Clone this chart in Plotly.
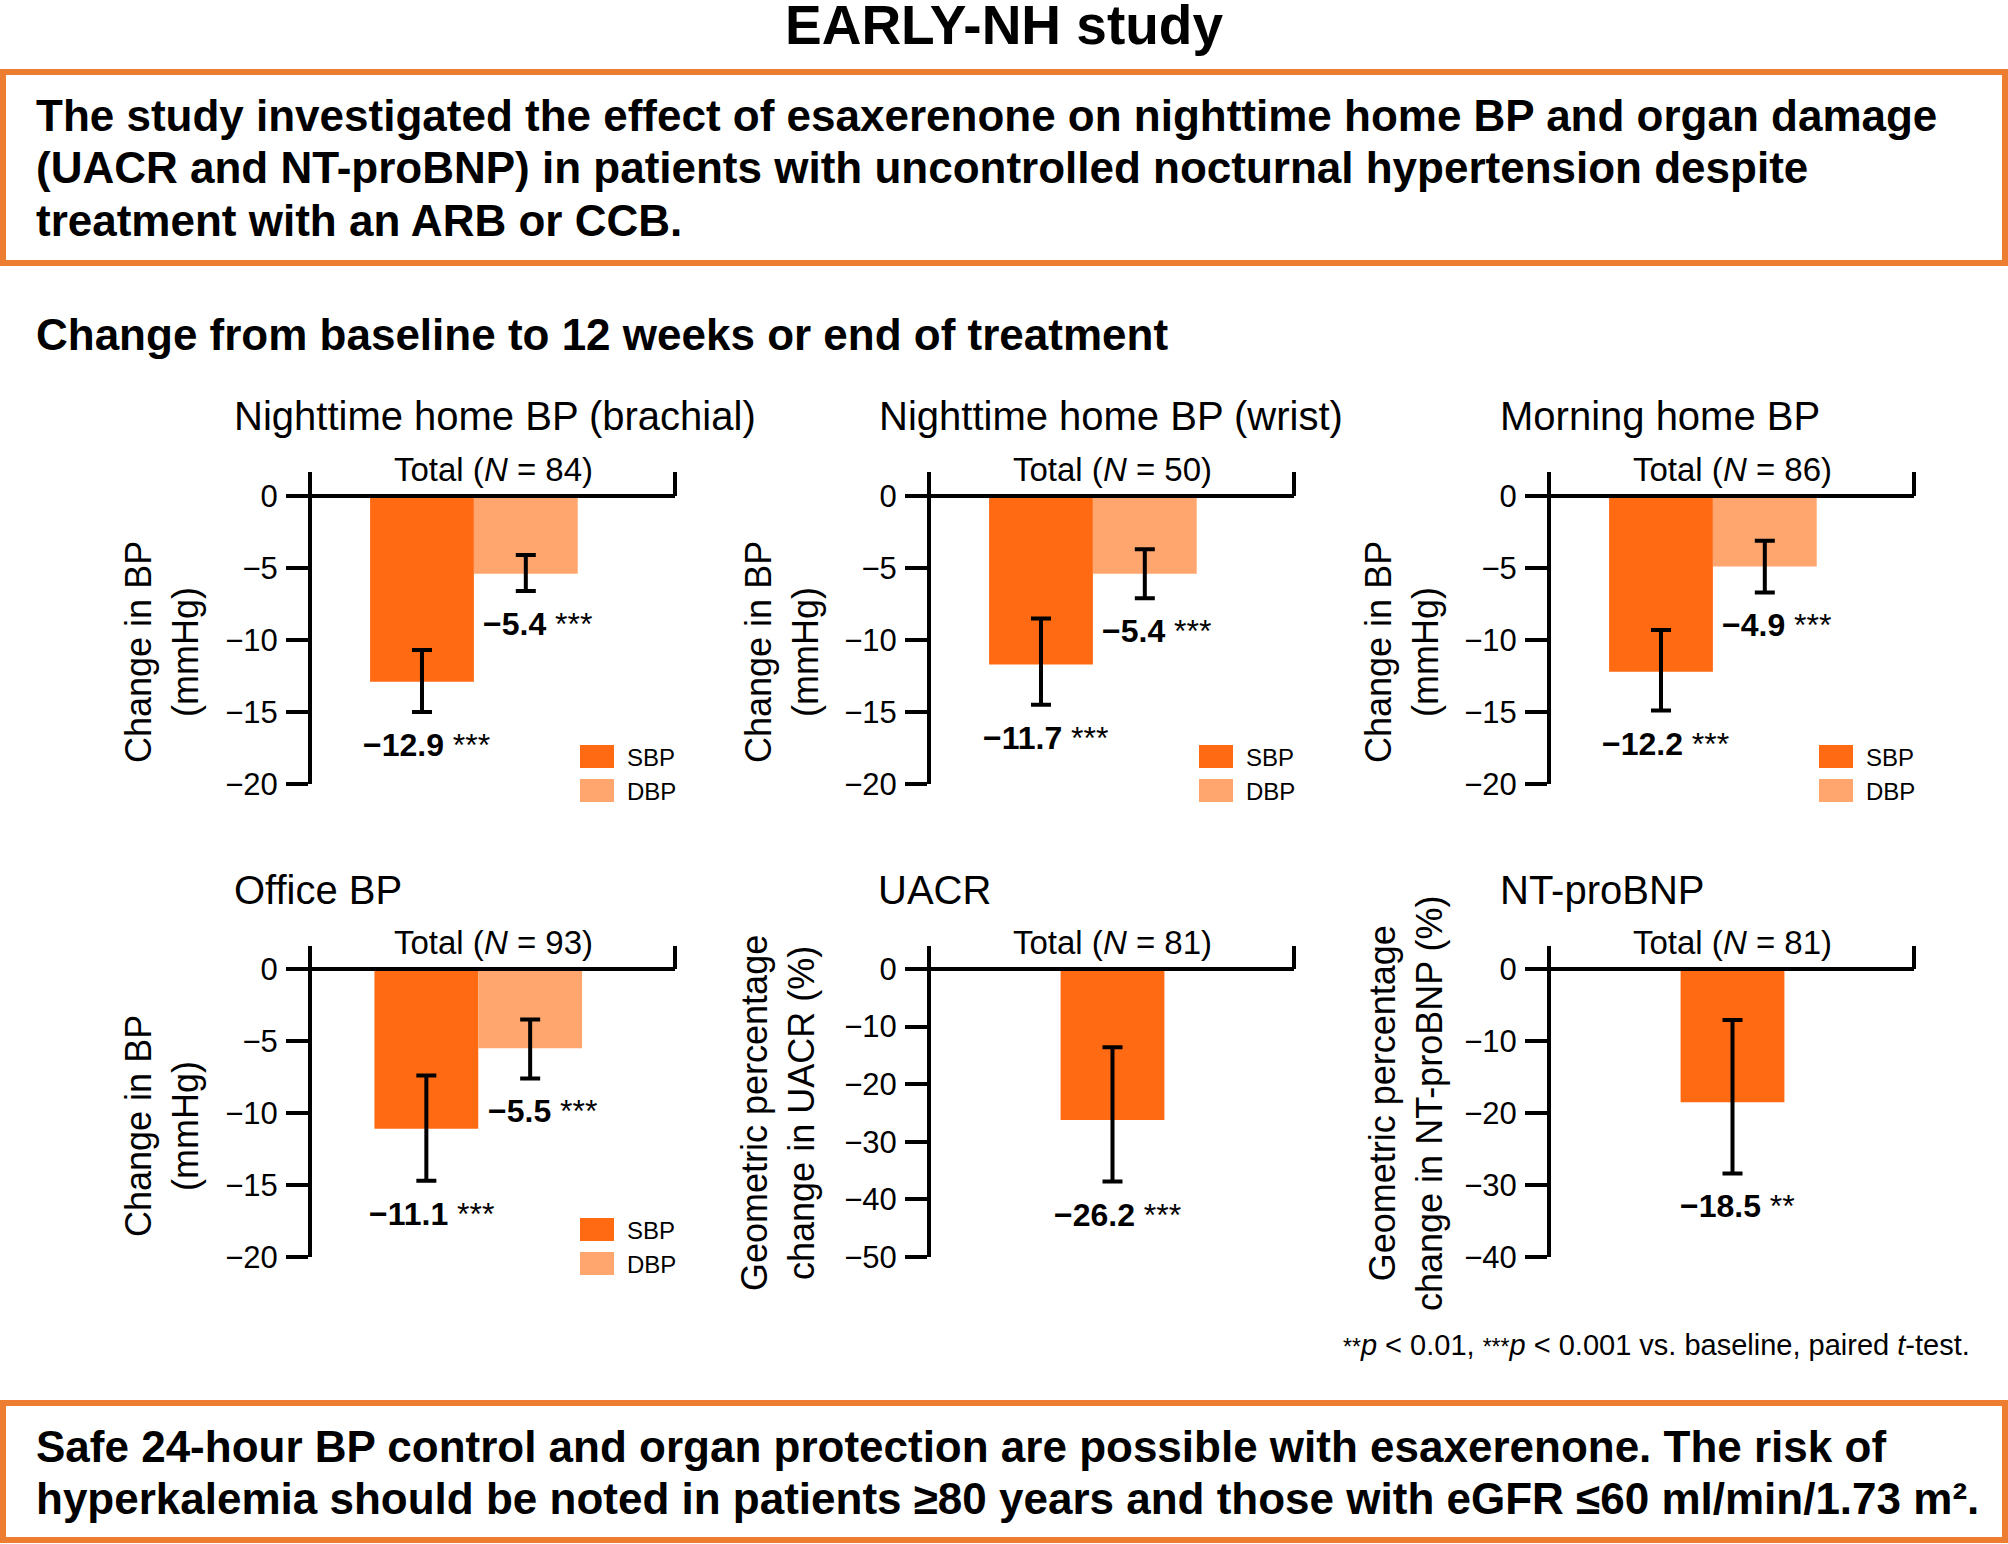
import plotly.graph_objects as go

W, H = 2008, 1544
FONT = "Liberation Sans, Arial, Helvetica, sans-serif"
SBP_COLOR = "#FF6A13"
DBP_COLOR = "#FFA66E"
BORDER = "#ED7D31"

# ---------------- data ----------------
page_title = "EARLY-NH study"
intro_lines = [
    "The study investigated the effect of esaxerenone on nighttime home BP and organ damage",
    "(UACR and NT-proBNP) in patients with uncontrolled nocturnal hypertension despite",
    "treatment with an ARB or CCB.",
]
section_title = "Change from baseline to 12 weeks or end of treatment"
conclusion_lines = [
    "Safe 24-hour BP control and organ protection are possible with esaxerenone. The risk of",
    "hyperkalemia should be noted in patients ≥80 years and those with eGFR ≤60 ml/min/1.73 m²."
]

panel_titles = ["Nighttime home BP (brachial)", "Nighttime home BP (wrist)", "Morning home BP",
                "Office BP", "UACR", "NT-proBNP"]
panel_n = [84, 50, 86, 93, 81, 81]
category = ["Total"]
series_names = ["SBP", "DBP"]

# BP panels (brachial, wrist, morning, office)
sbp_change = [-12.9, -11.7, -12.2, -11.1]
sbp_ci_upper = [-10.7, -8.5, -9.3, -7.4]
sbp_ci_lower = [-15.0, -14.5, -14.9, -14.7]
sbp_sig = ["***", "***", "***", "***"]

dbp_change = [-5.4, -5.4, -4.9, -5.5]
dbp_ci_upper = [-4.1, -3.7, -3.1, -3.5]
dbp_ci_lower = [-6.6, -7.1, -6.7, -7.6]
dbp_sig = ["***", "***", "***", "***"]

# organ damage panels (UACR, NT-proBNP)
organ_change = [-26.2, -18.5]
organ_ci_upper = [-13.6, -7.1]
organ_ci_lower = [-36.9, -28.4]
organ_sig = ["***", "**"]

bp_ticks = [0, -5, -10, -15, -20]
uacr_ticks = [0, -10, -20, -30, -40, -50]
ntprobnp_ticks = [0, -10, -20, -30, -40]
panel_ticks = [bp_ticks, bp_ticks, bp_ticks, bp_ticks, uacr_ticks, ntprobnp_ticks]

bp_ytitle = "Change in BP<br>(mmHg)"
organ_ytitles = ["Geometric percentage<br>change in UACR (%)",
                 "Geometric percentage<br>change in NT-proBNP (%)"]

footnote = ('<span style="font-size:23px">**</span><i>p</i> &lt; 0.01, '
            '<span style="font-size:23px">***</span><i>p</i> &lt; 0.001 vs. baseline, paired <i>t</i>-test.')

# ---------------- layout geometry (pixels) ----------------
# (axis left x, plot right x, axis top y, zero y, min-tick y)
geo = [
    (312, 675, 472, 496, 784),
    (931, 1294, 472, 496, 784),
    (1551, 1914, 472, 496, 784),
    (312, 675, 946, 969, 1257),
    (931, 1294, 946, 969, 1257),
    (1551, 1914, 946, 969, 1257),
]
group_center = [0.446, 0.446, 0.446, 0.458, 0.5, 0.5]
title_x = [232, 877, 1498, 232, 876, 1498]
ytitle_x = [162, 782, 1402, 162, 778, 1406]
ytitle_y = [652, 652, 652, 1126, 1113, 1103]

BARGAP = 0.15
BAR_FRAC = 0.286  # bar width as fraction of axis length


def px(x):
    return x / W


def py(y):
    return 1 - y / H


def minus(v):
    return ("−" if v < 0 else "") + f"{abs(v):.1f}"


fig = go.Figure()
annotations = []
shapes = []

for i in range(6):
    ax = "" if i == 0 else str(i + 1)
    xref, yref = "x" + ax, "y" + ax
    xl, xr, yt, y0, yb = geo[i]
    ticks = panel_ticks[i]
    ymin = min(ticks)
    ytop = -ymin * (y0 - yt) / (yb - y0)

    two = i < 4
    ngroups = 2 if two else 1
    span = (1 - BARGAP) / (ngroups * BAR_FRAC)
    r0 = -group_center[i] * span
    bar_w = (1 - BARGAP) / ngroups

    if two:
        vals = [(sbp_change[i], sbp_ci_upper[i], sbp_ci_lower[i], sbp_sig[i], SBP_COLOR, series_names[0], -bar_w / 2, 5),
                (dbp_change[i], dbp_ci_upper[i], dbp_ci_lower[i], dbp_sig[i], DBP_COLOR, series_names[1], bar_w / 2, 12)]
    else:
        j = i - 4
        vals = [(organ_change[j], organ_ci_upper[j], organ_ci_lower[j], organ_sig[j], SBP_COLOR, "Change", 0, 5)]

    for v, up, lo, sig, col, name, off, xs in vals:
        fig.add_trace(go.Bar(
            x=category, y=[v], name=name, xaxis=xref, yaxis=yref,
            marker=dict(color=col, line=dict(width=0)),
            showlegend=False,
            error_y=dict(type="data", symmetric=False, array=[up - v], arrayminus=[v - lo],
                         color="black", thickness=4, width=10),
        ))
        annotations.append(dict(
            xref=xref, yref=yref, x=off, y=lo, yshift=-33, xshift=xs,
            text=f"<b>{minus(v)}</b> {sig}", showarrow=False,
            xanchor="center", yanchor="middle",
            font=dict(family=FONT, size=32, color="black")))

    dom_x = [px(xl), px(xr)]
    dom_y = [py(yb), py(yt)]
    fig.layout["xaxis" + ax] = dict(
        domain=dom_x, anchor=yref, type="category", range=[r0, r0 + span], automargin=False,
        showline=False, showticklabels=False, ticks="", showgrid=False, zeroline=False, fixedrange=True)
    fig.layout["yaxis" + ax] = dict(
        domain=dom_y, anchor=xref, range=[ymin, ytop], automargin=False,
        tickvals=ticks, ticktext=[("−" if t < 0 else "") + str(abs(t)) for t in ticks],
        ticks="outside", ticklen=22, tickwidth=4, tickcolor="black",
        showline=True, linewidth=4, linecolor="black",
        showgrid=False, zeroline=False, fixedrange=True,
        tickfont=dict(family=FONT, size=31, color="black"), ticklabelstandoff=2)

    # zero line and right end tick
    shapes.append(dict(type="line", xref=xref + " domain", yref=yref, x0=0, x1=1, y0=0, y1=0,
                       line=dict(color="black", width=4)))
    shapes.append(dict(type="line", xref=xref + " domain", yref=yref, x0=1, x1=1, y0=0, y1=ytop,
                       line=dict(color="black", width=4)))

    # Total (N = ..)
    annotations.append(dict(
        xref=xref + " domain", yref=yref, x=0.5, y=0, yshift=26,
        text=f"Total (<i>N</i> = {panel_n[i]})", showarrow=False,
        xanchor="center", yanchor="middle",
        font=dict(family=FONT, size=33, color="black")))

    # panel title
    annotations.append(dict(
        xref="paper", yref="paper", x=px(title_x[i]), y=py(yt - 56),
        text=panel_titles[i], showarrow=False, xanchor="left", yanchor="middle",
        font=dict(family=FONT, size=40, color="black")))

    # y axis title
    ytxt = bp_ytitle if two else organ_ytitles[i - 4]
    annotations.append(dict(
        xref="paper", yref="paper", x=px(ytitle_x[i]), y=py(ytitle_y[i]),
        text=ytxt, showarrow=False, textangle=-90, xanchor="center", yanchor="middle",
        align="center", font=dict(family=FONT, size=36, color="black")))

    # legend
    if two:
        for k, (nm, col) in enumerate(zip(series_names, [SBP_COLOR, DBP_COLOR])):
            top = y0 + 249 + 34 * k
            shapes.append(dict(type="rect", xref="paper", yref="paper",
                               x0=px(xl + 268), x1=px(xl + 302), y0=py(top + 23), y1=py(top),
                               fillcolor=col, line=dict(width=0)))
            annotations.append(dict(
                xref="paper", yref="paper", x=px(xl + 313), y=py(top + 12),
                text=nm, showarrow=False, xanchor="left", yanchor="middle",
                font=dict(family=FONT, size=24, color="black")))

# page title
annotations.append(dict(xref="paper", yref="paper", x=px(1004), y=py(25), text=f"<b>{page_title}</b>",
                        showarrow=False, xanchor="center", yanchor="middle",
                        font=dict(family=FONT, size=55, color="black")))
# boxes
shapes.append(dict(type="rect", xref="paper", yref="paper", x0=px(3), x1=px(2005), y0=py(263), y1=py(72),
                   line=dict(color=BORDER, width=6), fillcolor="rgba(0,0,0,0)"))
shapes.append(dict(type="rect", xref="paper", yref="paper", x0=px(3), x1=px(2005), y0=py(1540), y1=py(1403),
                   line=dict(color=BORDER, width=6), fillcolor="rgba(0,0,0,0)"))
for k, line in enumerate(intro_lines):
    annotations.append(dict(xref="paper", yref="paper", x=px(34), y=py(115 + 52.5 * k), text=f"<b>{line}</b>",
                            showarrow=False, xanchor="left", yanchor="middle",
                            font=dict(family=FONT, size=44, color="black")))
for k, line in enumerate(conclusion_lines):
    annotations.append(dict(xref="paper", yref="paper", x=px(34), y=py(1446 + 52.5 * k), text=f"<b>{line}</b>",
                            showarrow=False, xanchor="left", yanchor="middle",
                            font=dict(family=FONT, size=44, color="black")))
annotations.append(dict(xref="paper", yref="paper", x=px(34), y=py(334), text=f"<b>{section_title}</b>",
                        showarrow=False, xanchor="left", yanchor="middle",
                        font=dict(family=FONT, size=44, color="black")))
annotations.append(dict(xref="paper", yref="paper", x=px(1972), y=py(1345), text=footnote,
                        showarrow=False, xanchor="right", yanchor="middle",
                        font=dict(family=FONT, size=29, color="black")))

fig.update_layout(
    width=W, height=H, margin=dict(l=0, r=0, t=0, b=0, pad=0, autoexpand=False),
    paper_bgcolor="white", plot_bgcolor="white",
    barmode="group", bargap=BARGAP, bargroupgap=0,
    showlegend=False, annotations=annotations, shapes=shapes,
    font=dict(family=FONT, color="black"),
)

fig.write_html(
    "out.html",
    config={"displayModeBar": False, "responsive": False},
    post_script=("document.documentElement.style.overflow='hidden';"
                 "document.body.style.margin='0';document.body.style.overflow='hidden';"),
)
